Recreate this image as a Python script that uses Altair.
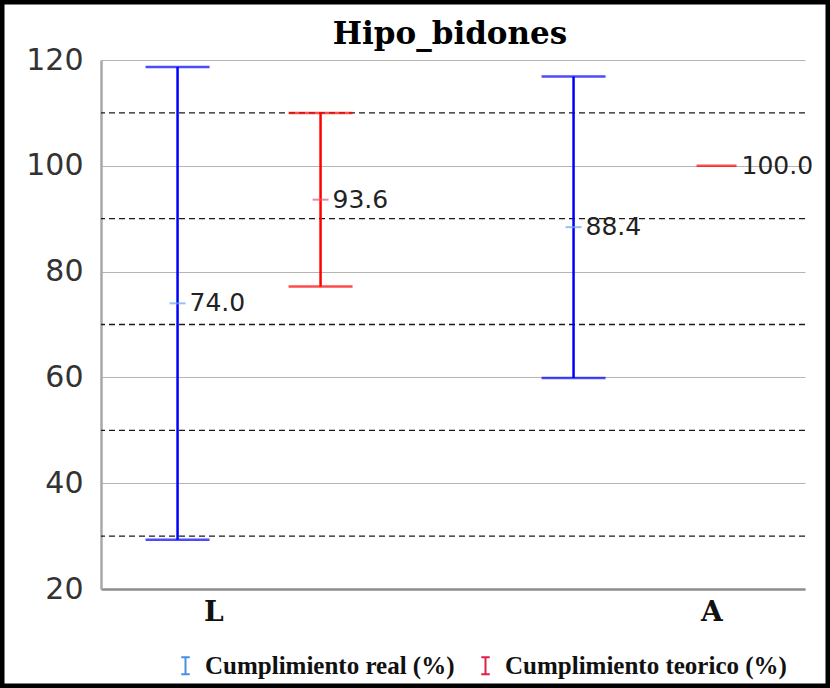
import altair as alt
import pandas as pd

# ---- data ----
categories = ["L", "L", "A", "A"]
series = ["Cumplimiento real (%)", "Cumplimiento teorico (%)",
          "Cumplimiento real (%)", "Cumplimiento teorico (%)"]
means = [74.0, 93.6, 88.4, 100.0]
lowers = [29.3, 77.2, 59.9, 100.0]
uppers = [118.7, 110.0, 116.9, 100.0]

cat_order = ["L", "A"]
series_order = ["Cumplimiento real (%)", "Cumplimiento teorico (%)"]
y_ticks = [20, 40, 60, 80, 100, 120]
minor_grid = [30, 50, 70, 90, 110]
chart_title = ["Hipo_bidones"]

bar_colors = ["#0000ff", "#ff0000"]
mean_colors = ["#6aa8ec", "#f0507a"]
legend_colors = ["#4a90e2", "#e0204a"]

df = pd.DataFrame({"cat": categories, "serie": series, "mean": means,
                   "lo": lowers, "hi": uppers})
df["label"] = df["mean"].map(lambda v: f"{v:.1f}")
df["has_err"] = df["hi"] > df["lo"]

W, H = 704, 529

y_scale = alt.Scale(domain=[20, 120], nice=False, zero=False)
Y_AXIS = alt.Axis(title=None, values=y_ticks, grid=True, gridColor="#b4b4b4",
                  gridWidth=1, domain=True, domainColor="#a8a8a8", domainWidth=2.5,
                  ticks=False, labelFont="DejaVu Sans", labelFontSize=30,
                  labelColor="#333333", labelPadding=18)


def xs():
    return alt.X("cat:N", axis=None,
                 scale=alt.Scale(type="band", domain=cat_order, paddingInner=0.2778,
                                 paddingOuter=0.0278, align=0.23))


XO = alt.XOffset("serie:N", scale=alt.Scale(domain=series_order,
                                            paddingInner=0, paddingOuter=0))
bar_color = alt.Color("serie:N", legend=None,
                      scale=alt.Scale(domain=series_order, range=bar_colors))

base = alt.Chart(df)
err = base.transform_filter("datum.has_err")

minor = alt.Chart(pd.DataFrame({"v": minor_grid})).mark_rule(
    color="#1a1a1a", strokeWidth=1.3, strokeDash=[6, 4]
).encode(y=alt.Y("v:Q", scale=y_scale, axis=Y_AXIS))

rule = err.mark_rule(strokeWidth=2.5).encode(
    x=xs(), xOffset=XO,
    y=alt.Y("lo:Q", scale=y_scale, axis=Y_AXIS), y2="hi:Q", color=bar_color)

caps = err.transform_fold(["lo", "hi"], as_=["end", "val"]).mark_tick(
    size=64, thickness=2.5).encode(
    x=xs(), xOffset=XO, y=alt.Y("val:Q", scale=y_scale, axis=Y_AXIS),
    color=bar_color)

mean_tick = err.mark_tick(size=16, thickness=2).encode(
    x=xs(), xOffset=XO, y=alt.Y("mean:Q", scale=y_scale, axis=Y_AXIS),
    color=alt.Color("serie:N", legend=None,
                    scale=alt.Scale(domain=series_order, range=mean_colors)))

point_only = base.transform_filter("!datum.has_err").mark_tick(
    size=40, thickness=2.5).encode(
    x=xs(), xOffset=XO, y=alt.Y("mean:Q", scale=y_scale, axis=Y_AXIS),
    color=bar_color)

txt_style = dict(align="left", baseline="middle", font="DejaVu Sans",
                 fontSize=25, color="#222222")
txt_err = err.mark_text(dx=12, **txt_style).encode(
    x=xs(), xOffset=XO, y=alt.Y("mean:Q", scale=y_scale, axis=Y_AXIS),
    text="label:N")
txt_pt = base.transform_filter("!datum.has_err").mark_text(dx=25, **txt_style).encode(
    x=xs(), xOffset=XO, y=alt.Y("mean:Q", scale=y_scale, axis=Y_AXIS),
    text="label:N")

# category labels on the x axis
xlab = alt.Chart(pd.DataFrame({"cat": cat_order})).mark_point(opacity=0).encode(
    x=alt.X("cat:N",
            scale=alt.Scale(type="band", domain=cat_order, paddingInner=0.8,
                            paddingOuter=0.1068, align=0.593),
            axis=alt.Axis(title=None, ticks=False, domain=True,
                          domainColor="#8c8c8c", domainWidth=2.5,
                          labelFont="DejaVu Serif", labelFontWeight="bold",
                          labelFontSize=28, labelColor="#111111",
                          labelPadding=9, labelAngle=0)))

legend_layer = alt.Chart(pd.DataFrame({"serie": series_order})).mark_point(
    opacity=0, shape="M-0.6,-1H0.6M0,-1V1M-0.6,1H0.6").encode(
    color=alt.Color("serie:N",
                    scale=alt.Scale(domain=series_order, range=legend_colors),
                    legend=alt.Legend(
                        title=None, orient="none", direction="horizontal",
                        legendX=72, legendY=593,
                        symbolType="M-0.5,-1H0.5M0,-1V1M-0.5,1H0.5",
                        symbolSize=289, symbolStrokeWidth=2,
                        symbolOpacity=1, symbolFillColor="transparent",
                        labelFont="Liberation Serif",
                        labelFontWeight="bold", labelFontSize=25,
                        labelColor="#111111", labelOffset=7,
                        columnPadding=18, labelLimit=400)))

title_layer = alt.Chart(pd.DataFrame({"t": chart_title})).mark_text(
    font="DejaVu Serif", fontWeight="bold", fontSize=31, color="#000000",
    baseline="alphabetic", align="center").encode(
    text="t:N", x=alt.value(W / 2 - 3), y=alt.value(-16))

frame = alt.Chart(pd.DataFrame({"f": [0]})).mark_rect(
    fill="transparent", stroke="black", strokeWidth=4.5).encode(
    x=alt.value(-98.75), x2=alt.value(W + 22.75), y=alt.value(-57.75),
    y2=alt.value(H + 96.75))

chart = alt.layer(
    minor, rule, caps, mean_tick, point_only, txt_err, txt_pt, xlab,
    legend_layer, title_layer, frame
).resolve_scale(x="independent", color="independent").properties(
    width=W, height=H, padding=0, background="white"
).configure_view(stroke=None)

chart.save("out.html", embed_options={"renderer": "svg", "actions": False})
